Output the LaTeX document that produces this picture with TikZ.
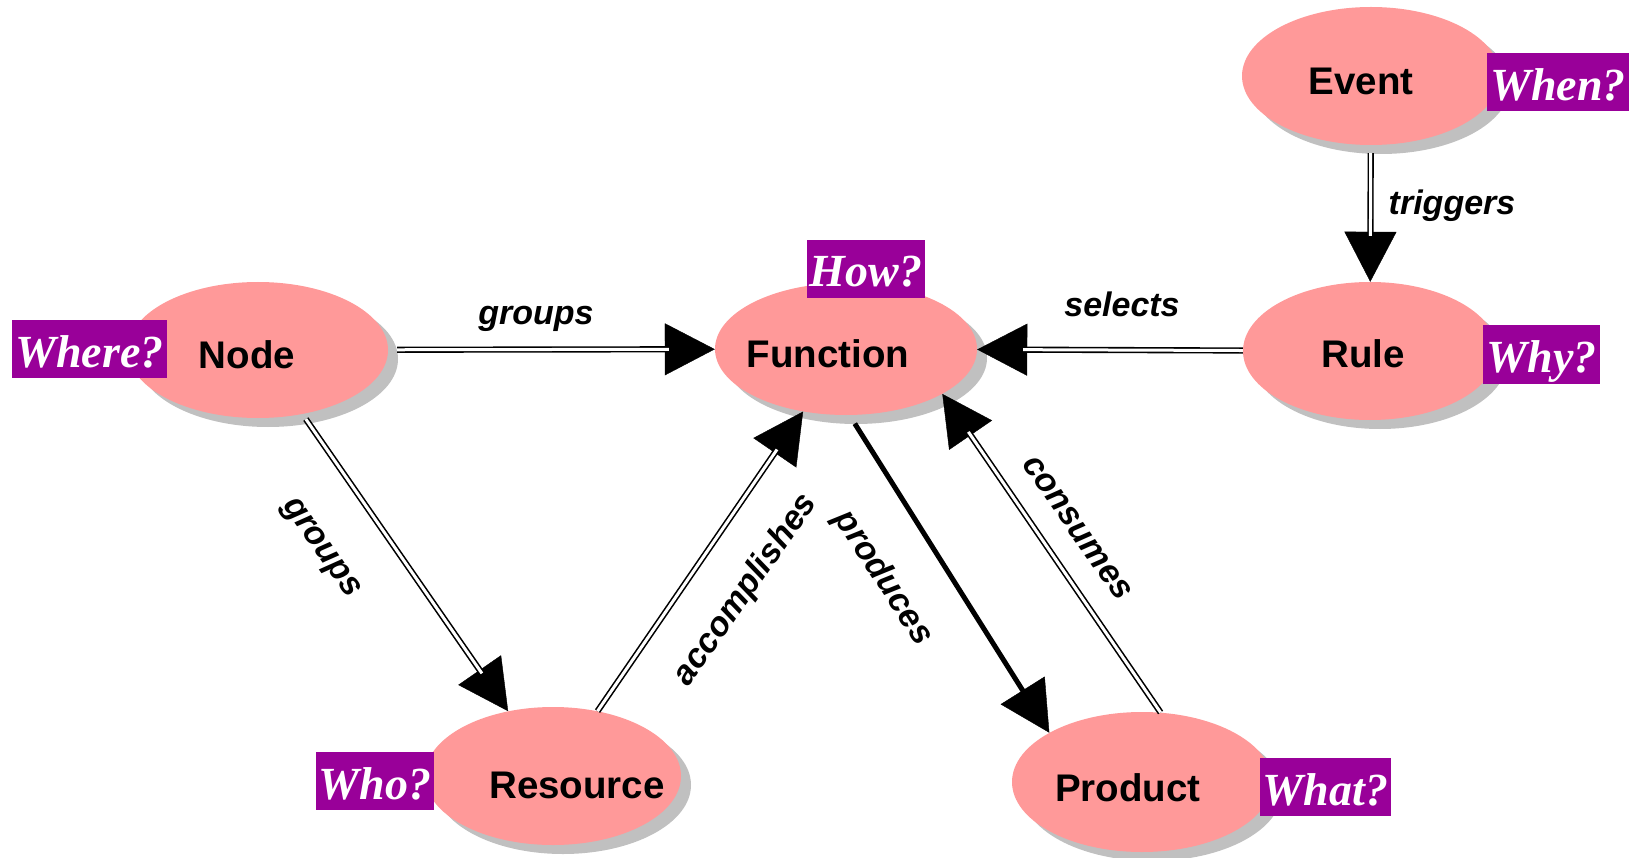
\documentclass[tikz,border=0pt]{standalone}
\usepackage{fontspec}
\setmainfont{Liberation Sans}
\newfontfamily\qfont{Liberation Serif}
\usetikzlibrary{arrows.meta,calc,shapes.geometric}
\definecolor{blobpink}{RGB}{255,153,153}
\definecolor{shadegray}{RGB}{192,192,192}
\definecolor{qpurple}{RGB}{153,0,153}

\tikzset{
  blob/.style={ellipse, fill=blobpink, draw=none, inner sep=0pt},
  blobshadow/.style={ellipse, fill=shadegray, draw=none, inner sep=0pt},
  title/.style={font=\fontsize{38.5}{40}\selectfont\bfseries, anchor=base, inner sep=0pt},
  question/.style={fill=qpurple, text=white,
    font=\qfont\fontsize{46}{48}\selectfont\bfseries\itshape,
    text height=44pt, text depth=8pt, inner xsep=3.2pt, inner ysep=3pt},
  rel/.style={font=\fontsize{34}{36}\selectfont\bfseries\itshape, inner sep=0pt},
  link/.style={draw, line width=1.6pt, double=white, double distance=3pt, shorten >=46pt},
  tiphead/.style={line width=0.4pt, -{Triangle[length=50pt,width=52pt]}},
  strong/.style={line width=5pt, shorten >=46pt},
}

\begin{document}
\begin{tikzpicture}[x=1pt,y=-1pt]
\useasboundingbox (0,0) rectangle (1632,858);

% drop shadows
\foreach \cx/\cy/\w/\h in {258/350/260/136, 846/349/262/132, 1371/76/258/138,
                           1370/351/254/138, 553/776/256/138, 1142/782/260/140}
  \node[blobshadow, minimum width=\w pt, minimum height=\h pt] at (\cx+10,\cy+9) {};

% entity ellipses
\node[blob, minimum width=260pt, minimum height=136pt] (node)     at (258,350)  {};
\node[blob, minimum width=262pt, minimum height=132pt] (function) at (846,349)  {};
\node[blob, minimum width=258pt, minimum height=138pt] (event)    at (1371,76)  {};
\node[blob, minimum width=254pt, minimum height=138pt] (rule)     at (1370,351) {};
\node[blob, minimum width=256pt, minimum height=138pt] (resource) at (553,776)  {};
\node[blob, minimum width=260pt, minimum height=140pt] (product)  at (1142,782) {};

% entity names
\node[title] (tnode)     at (247,368)  {Node};
\node[title] (tfunction) at (828,367)  {Function};
\node[title] (tevent)    at (1361,95)  {Event};
\node[title] (trule)     at (1363,367) {Rule};
\node[title] (tresource) at (577,798)  {Resource};
\node[title] (tproduct)  at (1128,801) {Product};

% question tags
\node[question] (qwhere) at (89.5,349)   {Where?};
\node[question] (qhow)   at (866,269)    {How?};
\node[question] (qwhen)  at (1558,82.5)  {When?};
\node[question] (qwhy)   at (1541.5,354.5) {Why?};
\node[question] (qwho)   at (375,781)    {Who?};
\node[question] (qwhat)  at (1325.5,787) {What?};

% relations: arrow heads first, shafts on top
\draw[tiphead, shorten <=9pt] (node) -- (function);
\draw[link, shorten <=9pt]    (node) -- (function);

\draw[tiphead] (rule) -- (function);
\draw[link]    (rule) -- (function);

\draw[tiphead, shorten <=8pt] (event) -- (rule);
\draw[link, shorten <=8pt]    (event) -- (rule);

\draw[tiphead, shorten <=6pt] (node) -- (resource);
\draw[link, shorten <=6pt]    (node) -- (resource);

\draw[tiphead] (resource) -- (function);
\draw[link]    (resource) -- (function);

\draw[tiphead, shorten <=10pt] (function.-87) -- (product.152);
\draw[strong, shorten <=10pt]  (function.-87) -- (product.152);

\draw[tiphead] (product.75) -- (function.-25);
\draw[link]    (product.75) -- (function.-25);

% relation labels
\node[rel] (lgroupsA) at (536,319)  {groups};
\node[rel] (lselects) at (1122,304) {selects};
\node[rel] (ltrig)    at (1452,206) {triggers};
\node[rel, rotate=-55] (lgroupsB) at (320,549) {groups};
\node[rel, rotate=55]  (lacc)     at (746,590) {accomplishes};
\node[rel, rotate=-57] (lprod)    at (883,578) {produces};
\node[rel, rotate=-55] (lcons)    at (1077,528) {consumes};
\end{tikzpicture}
\end{document}
